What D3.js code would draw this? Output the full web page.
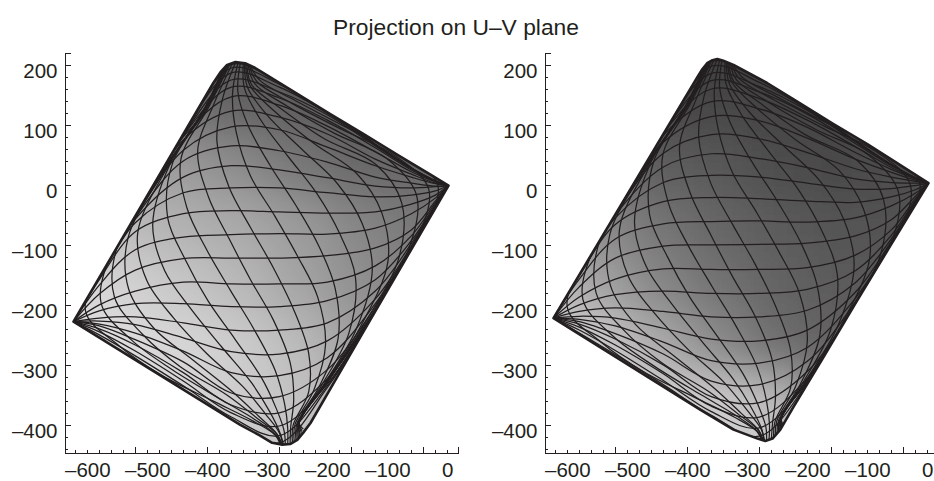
<!DOCTYPE html>
<html>
<head>
<meta charset="utf-8">
<title>Projection on U-V plane</title>
<script src="https://cdn.jsdelivr.net/npm/d3@7"></script>
<style>
  body { margin: 0; background: #fff; }
  text { font-family: "Liberation Sans", sans-serif; fill: #231f20; }
</style>
</head>
<body>
<svg id="chart" width="934" height="481"></svg>
<script>
// tick values
const uLabels = [-600, -500, -400, -300, -200, -100, 0];
const uLong = [-520, -400, -280, -160, -40];
const vLabels = [200, 100, 0, -100, -200, -300, -400];

// U columns where the left-to-right mesh lines were read
const hColumns = [-580, -520, -440, -360, -280, -200, -120, -60, -20];

// grey levels
const shadeU = [-640, -540, -440, -340, -240, -140, -40, 60];
const shadeV = [220, 120, 20, -80, -180, -280, -380, -480];
const leftShade = [
  [110, 100, 85, 85, 85, 85, 85, 85],
  [130, 120, 115, 100, 95, 85, 85, 85],
  [170, 165, 155, 140, 120, 105, 105, 105],
  [195, 190, 178, 170, 155, 135, 120, 115],
  [218, 212, 200, 185, 165, 145, 130, 125],
  [225, 222, 215, 205, 188, 160, 140, 130],
  [225, 222, 215, 205, 195, 180, 150, 130],
  [225, 222, 215, 205, 195, 180, 150, 130]
];
const rightShade = [
  [70, 65, 60, 62, 62, 62, 62, 62],
  [85, 80, 72, 70, 68, 68, 68, 68],
  [110, 108, 95, 88, 78, 72, 78, 80],
  [150, 140, 118, 102, 92, 85, 82, 82],
  [195, 165, 135, 115, 100, 92, 88, 85],
  [215, 205, 172, 140, 112, 98, 92, 88],
  [225, 225, 215, 205, 190, 125, 95, 90],
  [225, 225, 225, 215, 205, 140, 100, 90]
];

// left panel outline
const leftOutlineU = [-623, -390, -378, -367, -353, -337, -320, -307, -250, -195, -140, -83, -28, 2, -83, -140, -195, -228, -240, -250, -262, -275, -292, -312, -345];
const leftOutlineV = [-228, 170, 188, 200, 205, 203, 195, 187, 152, 118, 85, 50, 17, -1, -147, -245, -340, -397, -413, -425, -432, -433, -430, -418, -400];
const leftWest = [-623, -228];
const leftEast = [2, -1];
// left panel, V of each left-to-right line at hColumns
const leftH = [
  [-148, -48, 87, 201, 172, 124, 68, 28, 7],
  [-148, -48, 86, 195, 168, 122, 68, 28, 7],
  [-149, -49, 85, 187, 163, 120, 67, 28, 7],
  [-150, -50, 83, 175, 155, 117, 65, 27, 6],
  [-150, -50, 82, 163, 145, 108, 62, 25, 6],
  [-151, -51, 80, 147, 133, 98, 55, 22, 5],
  [-151, -52, 75, 123, 113, 85, 43, 18, 3],
  [-152, -53, 58, 97, 92, 63, 32, 13, 2],
  [-152, -55, 40, 65, 57, 38, 13, 3, -2],
  [-153, -57, 13, 32, 25, 12, -2, -5, -3],
  [-155, -63, -13, -5, -5, -13, -20, -17, -10],
  [-158, -78, -48, -43, -45, -47, -45, -32, -17],
  [-167, -108, -87, -83, -81, -82, -72, -48, -22],
  [-182, -142, -123, -122, -122, -118, -105, -75, -27],
  [-200, -177, -162, -165, -165, -162, -135, -85, -30],
  [-210, -198, -198, -203, -203, -193, -158, -93, -33],
  [-222, -220, -230, -242, -242, -230, -177, -98, -35],
  [-227, -233, -255, -278, -282, -260, -190, -102, -36],
  [-232, -247, -277, -313, -318, -288, -198, -104, -37],
  [-235, -258, -295, -347, -353, -308, -203, -105, -37],
  [-240, -267, -313, -367, -380, -323, -207, -106, -38],
  [-245, -277, -327, -380, -402, -332, -208, -107, -38],
  [-250, -285, -335, -387, -418, -335, -209, -107, -38],
  [-255, -292, -342, -392, -430, -338, -210, -107, -38]
];
// left panel, top-to-bottom lines
const leftVU = [
  [-375, -405, -470, -556, -603, -547, -475, -389, -325, -287, -278],
  [-373, -404, -469, -553, -577, -527, -457, -380, -321, -286, -277],
  [-372, -404, -468, -548, -555, -508, -445, -368, -317, -284, -276],
  [-370, -403, -467, -532, -531, -489, -424, -358, -313, -284, -275],
  [-368, -403, -465, -516, -501, -456, -401, -341, -303, -280, -274],
  [-367, -402, -463, -491, -471, -427, -377, -327, -296, -279, -273],
  [-365, -400, -458, -466, -436, -399, -354, -310, -285, -272, -270],
  [-362, -397, -444, -434, -401, -362, -322, -287, -271, -266, -266],
  [-358, -389, -416, -398, -364, -328, -290, -262, -256, -261, -262],
  [-353, -375, -384, -364, -328, -290, -256, -231, -231, -257, -258],
  [-349, -358, -352, -328, -288, -250, -216, -203, -222, -254, -255],
  [-345, -349, -332, -295, -253, -215, -187, -182, -214, -251, -252],
  [-340, -338, -312, -265, -217, -179, -153, -164, -210, -249, -250],
  [-338, -333, -300, -242, -183, -142, -125, -152, -206, -248, -248],
  [-336, -329, -287, -222, -151, -109, -99, -145, -204, -247, -246],
  [-334, -326, -277, -205, -119, -76, -80, -140, -203, -247, -245],
  [-332, -321, -268, -188, -101, -51, -66, -136, -202, -247, -243],
  [-330, -317, -259, -175, -89, -31, -58, -136, -201, -247, -242],
  [-328, -312, -252, -168, -82, -16, -55, -135, -201, -247, -240]
];
const leftVV = [
  [192, 127, 30, -100, -210, -268, -318, -361, -393, -417, -433],
  [193, 128, 30, -98, -197, -258, -309, -356, -391, -417, -433],
  [195, 128, 31, -96, -186, -249, -303, -350, -389, -416, -433],
  [197, 128, 31, -88, -174, -239, -292, -345, -387, -415, -433],
  [198, 128, 32, -80, -159, -222, -281, -336, -382, -413, -433],
  [200, 129, 33, -67, -143, -207, -269, -329, -378, -413, -433],
  [200, 129, 36, -55, -126, -193, -257, -321, -373, -410, -433],
  [202, 131, 43, -38, -108, -175, -241, -309, -366, -406, -433],
  [203, 135, 57, -20, -89, -158, -225, -296, -358, -404, -432],
  [204, 142, 73, -3, -71, -138, -208, -281, -345, -401, -430],
  [203, 151, 89, 15, -51, -118, -187, -267, -341, -400, -428],
  [203, 155, 99, 32, -33, -100, -172, -256, -337, -399, -426],
  [202, 161, 110, 47, -15, -82, -155, -247, -335, -398, -424],
  [201, 163, 116, 59, 2, -64, -141, -241, -333, -397, -421],
  [201, 166, 122, 69, 19, -47, -128, -237, -332, -397, -419],
  [200, 167, 127, 77, 34, -30, -119, -235, -331, -397, -416],
  [200, 169, 132, 86, 44, -18, -112, -233, -331, -396, -413],
  [199, 172, 136, 92, 50, -7, -107, -233, -331, -396, -410],
  [198, 174, 140, 96, 53, 0, -106, -232, -331, -396, -407]
];

// right panel outline
const rightOutlineU = [-623, -383, -375, -367, -358, -350, -340, -323, -267, -212, -157, -100, -45, 2, -62, -117, -173, -223, -245, -258, -270, -283, -323, -378];
const rightOutlineV = [-222, 180, 193, 203, 208, 210, 207, 200, 170, 136, 102, 68, 33, 3, -102, -193, -287, -370, -408, -423, -427, -423, -408, -375];
const rightWest = [-623, -222];
const rightEast = [2, 3];
const rightH = [
  [-143, -43, 93, 206, 178, 130, 74, 34, 12],
  [-143, -43, 91, 198, 171, 126, 73, 34, 12],
  [-144, -44, 90, 186, 164, 124, 72, 33, 12],
  [-144, -44, 88, 174, 155, 118, 69, 32, 12],
  [-145, -45, 87, 160, 144, 108, 64, 29, 11],
  [-145, -46, 83, 139, 127, 96, 54, 26, 10],
  [-146, -47, 71, 114, 107, 78, 43, 21, 8],
  [-146, -48, 53, 84, 77, 54, 27, 13, 6],
  [-147, -50, 30, 52, 44, 29, 10, 4, 3],
  [-148, -55, 4, 16, 13, 3, -7, -6, -1],
  [-151, -66, -28, -21, -23, -27, -29, -20, -8],
  [-157, -90, -65, -61, -60, -62, -55, -35, -14],
  [-170, -122, -102, -100, -99, -97, -85, -58, -19],
  [-187, -157, -140, -141, -141, -138, -117, -75, -23],
  [-200, -183, -177, -181, -181, -174, -143, -84, -26],
  [-211, -205, -211, -220, -220, -209, -163, -90, -28],
  [-219, -222, -239, -257, -260, -242, -179, -94, -30],
  [-224, -235, -262, -293, -297, -271, -189, -97, -31],
  [-228, -248, -282, -327, -333, -294, -195, -99, -31],
  [-232, -257, -300, -353, -363, -311, -200, -100, -32],
  [-237, -267, -315, -369, -387, -322, -202, -101, -32],
  [-242, -276, -326, -378, -405, -328, -203, -101, -32],
  [-247, -283, -333, -384, -419, -331, -204, -102, -32]
];
const rightVU = [
  [-372, -402, -467, -553, -600, -544, -472, -386, -322, -284, -276],
  [-370, -401, -466, -550, -574, -524, -454, -377, -318, -283, -275],
  [-369, -401, -465, -545, -552, -505, -442, -365, -314, -281, -274],
  [-367, -400, -464, -529, -528, -486, -421, -355, -310, -281, -273],
  [-365, -400, -462, -513, -498, -453, -398, -338, -300, -277, -272],
  [-364, -399, -460, -488, -468, -424, -374, -324, -293, -276, -271],
  [-362, -397, -455, -463, -433, -396, -351, -307, -282, -269, -268],
  [-359, -394, -441, -431, -398, -359, -319, -284, -268, -263, -264],
  [-355, -386, -413, -395, -361, -325, -287, -259, -253, -258, -260],
  [-350, -372, -381, -361, -325, -287, -253, -228, -228, -254, -256],
  [-346, -355, -349, -325, -285, -247, -213, -200, -219, -251, -253],
  [-342, -346, -329, -292, -250, -212, -184, -179, -211, -248, -250],
  [-337, -335, -309, -262, -214, -176, -150, -161, -207, -246, -248],
  [-335, -330, -297, -239, -180, -139, -122, -149, -203, -245, -246],
  [-333, -326, -284, -219, -148, -106, -96, -142, -201, -244, -244],
  [-331, -323, -274, -202, -116, -73, -77, -137, -200, -244, -243],
  [-329, -318, -265, -185, -98, -48, -63, -133, -199, -244, -241],
  [-327, -314, -256, -172, -86, -28, -55, -133, -198, -244, -240],
  [-325, -309, -249, -165, -79, -13, -52, -132, -198, -244, -238]
];
const rightVV = [
  [198, 133, 36, -94, -204, -262, -312, -355, -387, -411, -427],
  [199, 134, 36, -92, -191, -252, -303, -350, -385, -411, -427],
  [201, 134, 37, -90, -180, -243, -297, -344, -383, -410, -427],
  [203, 134, 37, -82, -168, -233, -286, -339, -381, -409, -427],
  [204, 134, 38, -74, -153, -216, -275, -330, -376, -407, -427],
  [206, 135, 39, -61, -137, -201, -263, -323, -372, -407, -427],
  [206, 135, 42, -49, -120, -187, -251, -315, -367, -404, -427],
  [208, 137, 49, -32, -102, -169, -235, -303, -360, -400, -427],
  [209, 141, 63, -14, -83, -152, -219, -290, -352, -398, -426],
  [210, 148, 79, 3, -65, -132, -202, -275, -339, -395, -424],
  [209, 157, 95, 21, -45, -112, -181, -261, -335, -394, -422],
  [209, 161, 105, 38, -27, -94, -166, -250, -331, -393, -420],
  [208, 167, 116, 53, -9, -76, -149, -241, -329, -392, -418],
  [207, 169, 122, 65, 8, -58, -135, -235, -327, -391, -415],
  [207, 172, 128, 75, 25, -41, -122, -231, -326, -391, -413],
  [206, 173, 133, 83, 40, -24, -113, -229, -325, -391, -410],
  [206, 175, 138, 92, 50, -12, -106, -227, -325, -390, -407],
  [205, 178, 142, 98, 56, -1, -101, -227, -325, -390, -404],
  [204, 180, 146, 102, 59, 6, -100, -226, -325, -390, -401]
];

const svg = d3.select("#chart");
const ink = "#231f20";

svg.append("text")
  .attr("x", 456)
  .attr("y", 35)
  .attr("text-anchor", "middle")
  .style("font-size", "22.8px")
  .text("Projection on U\u2013V plane");

const defs = svg.append("defs");
defs.append("filter")
  .attr("id", "soft")
  .attr("filterUnits", "userSpaceOnUse")
  .attr("x", 0).attr("y", 0).attr("width", 934).attr("height", 481)
  .append("feGaussianBlur")
  .attr("stdDeviation", 22);

const fmt = d => String(d).replace("-", "\u2013");

function drawPanel(id, left, p) {
  const x = d3.scaleLinear().domain([-638, 17]).range([left, left + 393]);
  const y = d3.scaleLinear().domain([-447, 220]).range([453, 53]);
  const g = svg.append("g").attr("id", id);

  const outlinePts = p.outlineU.map((u, i) => [x(u), y(p.outlineV[i])]);
  const outlinePath = "M" + outlinePts.join("L") + "Z";

  defs.append("clipPath").attr("id", id + "-clip")
    .append("path").attr("d", outlinePath);

  const clipped = g.append("g").attr("clip-path", `url(#${id}-clip)`);

  // smooth shading
  const cells = clipped.append("g").attr("filter", "url(#soft)");
  p.shade.forEach((row, r) => {
    cells.selectAll(null)
      .data(row)
      .enter()
      .append("rect")
      .attr("x", (d, c) => x(shadeU[c] - 60))
      .attr("y", y(shadeV[r] + 60))
      .attr("width", x(120) - x(0))
      .attr("height", y(-60) - y(60))
      .attr("fill", d => d3.rgb(d, d, d));
  });

  const line = d3.line().x(d => x(d[0])).y(d => y(d[1])).curve(d3.curveCatmullRom.alpha(0.5));
  const hData = p.h.map(vals => [p.west, ...vals.map((v, i) => [hColumns[i], v]), p.east]);
  const vData = p.vU.map((us, k) => us.map((u, i) => [u, p.vV[k][i]]));

  clipped.append("g").selectAll("path")
    .data(hData.concat(vData))
    .enter()
    .append("path")
    .attr("d", line)
    .attr("fill", "none")
    .attr("stroke", ink)
    .attr("stroke-width", 1.25);

  // thick edge where the mesh lines bunch up
  g.append("path")
    .attr("d", outlinePath)
    .attr("fill", "none")
    .attr("stroke", ink)
    .attr("stroke-width", 2.6)
    .attr("stroke-linejoin", "round");

  // axes: short ticks, longer ticks, then the labels on their own
  const xG = g.append("g").attr("transform", "translate(0,453)");
  xG.append("g").call(d3.axisBottom(x).tickValues(d3.range(-620, 1, 20)).tickSize(-3).tickFormat(""));
  xG.append("g").call(d3.axisBottom(x).tickValues(uLong).tickSize(-6).tickFormat(""));
  xG.append("g").call(d3.axisBottom(x).tickValues(uLabels).tickSize(0).tickPadding(9).tickFormat(fmt))
    .call(a => a.select(".domain").remove());

  const yG = g.append("g").attr("transform", `translate(${left},0)`);
  yG.append("g").call(d3.axisLeft(y).tickValues(d3.range(-440, 201, 20)).tickSize(-3).tickFormat(""));
  yG.append("g").call(d3.axisLeft(y).tickValues(vLabels).tickSize(-6).tickFormat(""));
  yG.append("g").attr("transform", "translate(0,6)")
    .call(d3.axisLeft(y).tickValues(vLabels).tickSize(0).tickPadding(7).tickFormat(fmt))
    .call(a => a.select(".domain").remove());

  g.selectAll(".tick line, .domain")
    .attr("stroke", ink)
    .attr("stroke-width", 1)
    .attr("shape-rendering", "crispEdges");
  g.selectAll(".tick text").style("font-size", "20.5px").attr("fill", ink);
}

drawPanel("left", 64.5, {
  outlineU: leftOutlineU, outlineV: leftOutlineV, west: leftWest, east: leftEast,
  h: leftH, vU: leftVU, vV: leftVV, shade: leftShade
});
drawPanel("right", 544.5, {
  outlineU: rightOutlineU, outlineV: rightOutlineV, west: rightWest, east: rightEast,
  h: rightH, vU: rightVU, vV: rightVV, shade: rightShade
});
</script>
</body>
</html>
